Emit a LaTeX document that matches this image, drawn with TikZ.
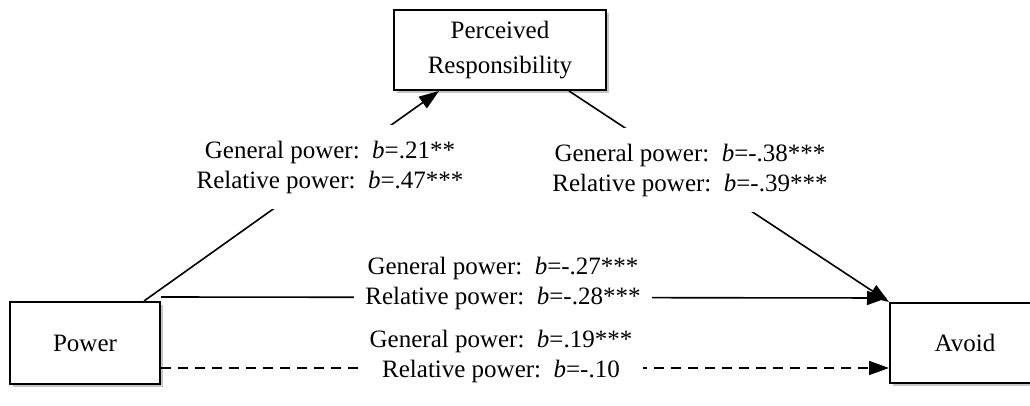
\documentclass[tikz,border=0pt]{standalone}
\usepackage{fontspec}
\setmainfont{Liberation Serif}
\usetikzlibrary{arrows.meta, shadows}

\tikzset{
  varbox/.style={draw=black, line width=1pt, fill=white, align=center,
    font=\fontsize{12.5}{17.5}\selectfont,
    drop shadow={shadow xshift=1.5pt, shadow yshift=-1.5pt, opacity=0.45}},
  coef/.style={fill=white, align=center, inner xsep=5.5pt, inner ysep=8pt,
    font=\fontsize{12.5}{15}\selectfont}
}

\begin{document}
\begin{tikzpicture}[x=0.5pt, y=-0.5pt]
\useasboundingbox (0,0) rectangle (1030,406);
\clip (0,0) rectangle (1030,406);
\fill[white] (0,0) rectangle (1030,406);

\node[varbox, minimum width=106pt, minimum height=40pt] (resp) at (500,50) {Perceived\\Responsibility};
\node[varbox, minimum width=75pt, minimum height=41pt] (power) at (85,343) {Power};
\node[varbox, minimum width=75pt, minimum height=40pt] (avoid) at (965,343) {Avoid};

\begin{scope}[>={Triangle[length=10pt, width=7pt]},
              every edge/.style={draw=black, line width=0.8pt}]
    \path [->] ([xshift=-8.5pt]power.north east) edge ([xshift=23pt]resp.south west);
    \path [->] ([xshift=-19pt]resp.south east) edge (avoid.north west);
    \path [->] ([yshift=2pt]power.north east) edge ([yshift=2pt, xshift=-1pt]avoid.north west);
    \path [->, dash pattern=on 5pt off 3.5pt] ([yshift=-12.5pt]power.east) edge ([yshift=-12.5pt]avoid.west);
\end{scope}

\draw[] (330,167) node[coef] (a path) {General power:\ \ \textit{b}=.21**\\Relative power:\ \ \textit{b}=.47***};
\draw[] (690,170) node[coef] (b path) {General power:\ \ \textit{b}=-.38***\\Relative power:\ \ \textit{b}=-.39***};
\draw[] (503,283) node[coef] (c path) {General power:\ \ \textit{b}=-.27***\\Relative power:\ \ \textit{b}=-.28***};
\draw[] (501,356) node[coef] (c' path) {General power:\ \ \textit{b}=.19***\\Relative power:\ \ \textit{b}=-.10};
\end{tikzpicture}
\end{document}
